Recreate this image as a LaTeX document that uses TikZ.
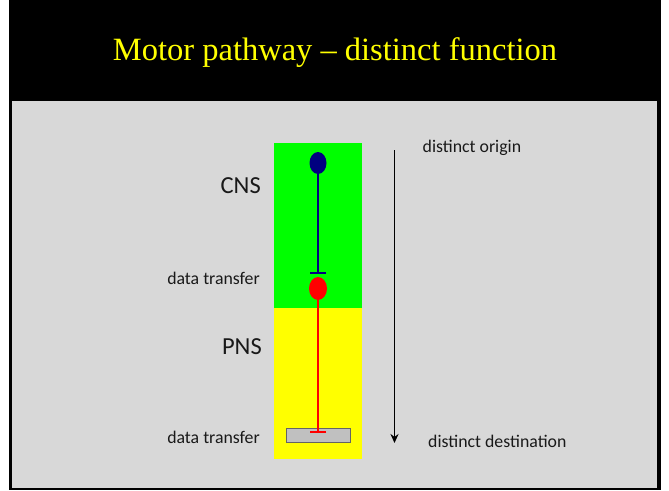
\documentclass[tikz,border=0pt]{standalone}
\usepackage{fontspec}
\setmainfont{Carlito}
\newfontfamily\titlefont[Ligatures=TeX]{Liberation Serif}
\usetikzlibrary{arrows.meta,shapes.geometric}
\definecolor{slidegray}{RGB}{216,216,216}
\definecolor{cnsgreen}{RGB}{0,255,0}
\definecolor{pnsyellow}{RGB}{255,255,0}
\definecolor{somablue}{RGB}{0,0,128}
\definecolor{titleyellow}{RGB}{255,255,0}
\definecolor{targetgray}{RGB}{192,192,192}
\definecolor{targetedge}{RGB}{100,100,100}
\definecolor{labeltext}{RGB}{25,25,25}
\begin{document}
\begin{tikzpicture}[x=1pt,y=-1pt,
  soma/.style={ellipse,inner sep=0pt,minimum width=17pt,minimum height=22pt},
  label/.style={inner sep=0pt,font=\fontsize{17.8}{20}\selectfont,text=labeltext},
  big/.style={inner sep=0pt,font=\fontsize{24.5}{28}\selectfont,text=labeltext}]
\useasboundingbox (0,0) rectangle (669,490);
% slide frame and title band
\fill[white] (0,0) rectangle (669,490);
\fill[black] (9,0) rectangle (661,490);
\fill[slidegray] (12,101) rectangle (657,488);
\node[text=titleyellow,font=\titlefont\fontsize{32.5}{36}\selectfont,inner sep=0pt] (title) at (335,53) {Motor pathway – distinct function};
% nervous system regions
\fill[cnsgreen] (274,143) rectangle (362,308);
\fill[pnsyellow] (274,308) rectangle (362,459);
% neurons
\node[soma,fill=somablue] (upper) at (318,163) {};
\node[soma,fill=red,minimum width=18pt,minimum height=23pt] (lower) at (318,288.5) {};
\node[draw=targetedge,fill=targetgray,minimum width=64pt,minimum height=14pt,inner sep=0pt,line width=0.8pt] (target) at (318,435.3) {};
\coordinate (syn1) at (318,273.5);
\coordinate (syn2) at (318,432.8);
\draw[somablue,line width=1.3pt,-{Bar[width=16pt,line width=1.5pt]}] (upper.south) -- (syn1);
\draw[red,line width=1.3pt,-{Bar[width=16pt,line width=1.8pt]}] (lower.south) -- (syn2);
% labels
\node[big,anchor=east] (cns) at (261,186) {CNS};
\node[big,anchor=east] (pns) at (262,347) {PNS};
\node[label,anchor=east] (dt1) at (260,278) {data transfer};
\node[label,anchor=east] (dt2) at (260,437.5) {data transfer};
% direction of travel
\coordinate (dirtop) at (394.5,150);
\coordinate (dirbot) at (394.5,443);
\draw[line width=1.5pt,-{Stealth[length=9pt,width=8pt]}] (dirtop) -- (dirbot);
\node[label,anchor=west] (origin) at (422.5,148) {distinct origin};
\node[label,anchor=west] (dest) at (428,441.5) {distinct destination};
\end{tikzpicture}
\end{document}
